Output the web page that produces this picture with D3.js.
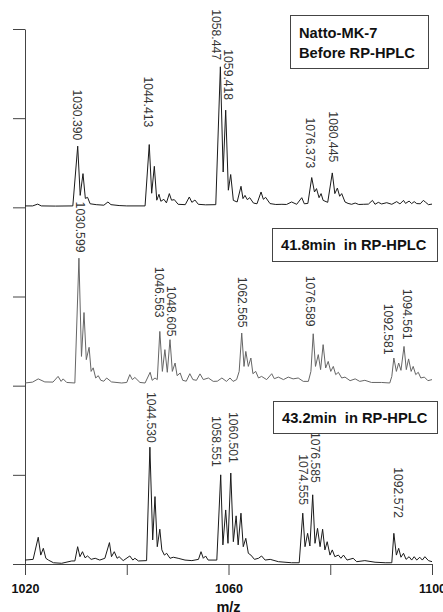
<!DOCTYPE html>
<html>
<head>
<meta charset="utf-8">
<script src="https://cdn.jsdelivr.net/npm/d3@7"></script>
<style>
  html, body { margin: 0; padding: 0; background: #fff; }
  svg { display: block; font-family: "Liberation Sans", Arial, sans-serif; }
</style>
</head>
<body>
<svg id="chart" width="443" height="612"></svg>
<script>
// ---------------- DATA ----------------
const xTicks = [1020, 1040, 1060, 1080, 1100];
const xTickLabels = [1020, 1060, 1100];
const xTitle = "m/z";

// Panel 1: Natto-MK-7 before RP-HPLC
const spec1Mz  = [1020.0,1021.5,1022.5,1023.2,1026.0,1029.4,1030.36,1030.85,1031.4,1031.86,1032.3,1032.8,1034.0,1035.5,1036.3,1036.9,1038.5,1040.0,1043.6,1044.42,1044.9,1045.42,1045.9,1046.34,1046.7,1047.3,1047.8,1048.37,1048.8,1049.35,1050.1,1051.5,1052.3,1052.8,1053.4,1054.07,1055.5,1057.5,1058.4,1058.95,1059.45,1059.97,1060.43,1060.95,1061.7,1062.46,1062.85,1063.24,1063.7,1064.17,1064.9,1065.6,1066.4,1066.85,1067.3,1068.16,1069.3,1070.5,1071.4,1072.4,1073.4,1074.4,1074.9,1075.6,1076.36,1076.9,1077.3,1077.8,1078.2,1078.6,1079.5,1080.4,1080.9,1081.4,1081.85,1082.25,1082.9,1083.5,1084.2,1084.9,1085.6,1086.5,1087.5,1088.3,1088.8,1089.45,1090.1,1091.1,1092.1,1093.06,1093.7,1094.4,1094.8,1095.5,1096.0,1096.5,1097.0,1097.7,1098.3,1098.76,1099.3,1100.0];
const spec1Int = [0.8,0.8,1.8,0.8,0.7,0.8,34.3,6.7,18.9,5.0,5.6,2.0,1.5,1.2,3.0,1.5,1.0,0.8,0.8,35.2,7.9,23.0,4.0,7.3,3.4,4.5,2.5,7.7,4.0,4.3,1.7,1.5,5.8,2.8,4.1,1.7,1.4,1.5,78.8,19.8,54.5,9.6,18.4,3.9,3.0,11.8,4.9,6.7,4.3,5.4,2.4,2.0,8.6,4.5,5.6,2.1,1.6,1.7,1.6,3.0,1.7,5.4,2.0,2.2,16.7,8.6,10.5,5.4,7.7,3.9,2.8,19.3,7.7,10.8,6.2,7.7,3.0,2.2,1.7,2.4,1.6,1.7,1.8,3.9,1.7,2.8,1.9,2.6,1.7,3.2,1.9,3.9,2.2,3.5,2.1,3.2,2.1,2.0,3.9,2.8,1.5,1.8];
const spec1LabelText  = ["1030.390","1044.413","1058.447","1059.418","1076.373","1080.445"];
const spec1LabelMz    = [1030.2,1044.2,1057.5,1059.9,1076.0,1080.5];
const spec1LabelLevel = [37.6,44.9,82.6,60.1,21.9,25.3];
const spec1Title = ["Natto-MK-7", "Before RP-HPLC"];

// Panel 2: 41.8 min fraction
const spec2Mz  = [1020.0,1021.5,1022.6,1023.9,1025.5,1026.5,1027.1,1027.5,1028.2,1029.8,1030.6,1031.1,1031.6,1032.05,1032.6,1033.0,1033.4,1033.9,1034.4,1034.9,1035.5,1036.05,1037.0,1039.0,1040.0,1040.6,1041.1,1041.6,1042.6,1043.6,1044.6,1045.0,1045.55,1046.0,1046.5,1047.0,1047.5,1047.97,1048.5,1048.96,1049.5,1049.9,1050.5,1051.0,1051.7,1052.4,1053.0,1053.7,1054.4,1055.05,1056.05,1057.0,1057.8,1058.7,1059.6,1060.3,1060.9,1061.6,1062.1,1062.6,1063.05,1063.4,1063.9,1064.4,1064.8,1065.35,1065.9,1066.5,1067.5,1068.5,1069.0,1069.8,1070.8,1071.75,1072.7,1073.7,1074.7,1075.7,1076.2,1076.65,1077.1,1077.65,1078.1,1078.6,1079.1,1079.6,1080.1,1080.6,1081.07,1081.6,1082.25,1082.9,1083.9,1084.9,1085.8,1086.8,1088.1,1090.1,1091.7,1092.1,1092.5,1093.0,1093.45,1093.9,1094.5,1094.95,1095.4,1095.9,1096.3,1096.8,1097.3,1097.8,1098.5,1099.2,1100.0];
const spec2Int = [1.5,2.0,3.8,2.1,2.0,5.2,2.4,3.8,1.8,1.5,71.5,16.4,41.0,14.6,21.5,8.0,10.0,4.3,5.6,3.0,2.5,4.3,2.1,1.5,1.8,6.2,3.4,4.6,1.8,1.5,7.5,3.0,4.3,3.4,30.4,8.0,20.2,7.5,25.8,8.0,12.7,5.6,7.1,3.0,2.5,6.7,3.4,3.0,6.6,3.4,4.3,2.4,2.5,4.3,2.4,4.3,2.4,3.4,8.0,29.5,10.8,19.2,10.8,15.5,6.7,8.0,4.3,5.2,3.4,6.7,3.9,4.8,3.4,4.8,3.8,4.3,2.4,2.4,8.0,29.1,10.8,17.4,9.0,23.0,9.9,13.6,8.0,10.8,6.2,7.5,4.3,4.8,2.8,3.8,2.4,3.0,1.8,1.8,1.5,5.2,15.5,8.0,12.7,8.6,22.0,9.0,15.0,8.0,10.8,6.2,7.5,4.3,4.8,2.8,3.4];
const spec2LabelText  = ["1030.599","1046.563","1048.605","1062.565","1076.589","1092.581","1094.561"];
const spec2LabelMz    = [1030.8,1046.3,1048.7,1062.65,1076.0,1091.35,1095.1];
const spec2LabelLevel = [74.7,38.2,27.5,32.6,33.1,17.4,25.8];
const spec2Title = ["41.8min  in RP-HPLC"];

// Panel 3: 43.2 min fraction
const spec3Mz  = [1020.0,1021.6,1022.6,1023.1,1023.6,1024.1,1024.6,1025.6,1027.2,1029.2,1029.8,1030.35,1030.8,1031.3,1031.8,1032.3,1033.0,1033.8,1034.7,1035.7,1036.6,1037.0,1037.55,1038.1,1038.5,1039.3,1040.6,1041.2,1041.6,1042.3,1043.9,1044.55,1045.1,1045.55,1046.0,1046.5,1046.9,1047.4,1047.85,1048.5,1049.15,1050.1,1051.45,1052.8,1054.1,1054.6,1055.05,1055.5,1056.0,1057.7,1058.47,1058.9,1059.45,1059.9,1060.45,1060.95,1061.5,1061.9,1062.45,1062.9,1063.4,1063.9,1064.4,1065.1,1065.9,1066.5,1067.2,1068.2,1069.8,1072.4,1073.9,1074.6,1075.04,1075.55,1076.0,1076.55,1077.0,1077.5,1078.0,1078.5,1078.95,1079.4,1079.95,1080.4,1080.9,1081.6,1082.1,1082.6,1083.3,1084.5,1085.2,1086.8,1088.8,1090.8,1092.1,1092.5,1093.0,1093.45,1093.9,1094.4,1094.9,1095.5,1096.0,1096.5,1097.0,1097.6,1098.1,1098.6,1099.3,1100.0];
const spec3Int = [2.2,2.6,15.0,5.0,8.8,3.2,2.2,0.7,0.4,1.7,1.7,9.7,4.1,6.9,3.5,4.5,2.6,3.2,2.2,3.2,12.0,4.1,6.9,3.2,4.1,1.9,4.5,2.2,3.2,1.7,1.9,65.5,13.5,37.8,9.7,19.5,7.9,5.0,6.0,3.2,3.8,3.2,2.2,1.9,2.6,6.9,3.2,4.5,2.2,2.2,50.0,10.7,30.3,11.6,51.0,12.5,27.0,10.7,28.5,9.7,14.4,6.0,5.0,2.6,3.2,4.5,2.2,2.6,1.3,0.7,0.7,28.5,9.7,17.2,10.1,38.8,11.6,20.0,9.7,19.5,7.9,12.5,5.0,7.9,4.1,5.0,3.2,5.0,2.2,3.2,1.3,1.9,1.0,0.7,0.7,17.2,5.0,8.8,3.8,6.0,2.6,4.1,2.2,4.1,2.2,3.8,2.2,4.1,1.9,1.3];
const spec3LabelText  = ["1044.530","1058.551","1060.501","1076.585","1074.555","1092.572"];
const spec3LabelMz    = [1044.8,1057.55,1060.9,1077.0,1074.65,1093.3];
const spec3LabelLevel = [68.0,54.5,56.7,45.5,33.1,25.8];
const spec3Title = ["43.2min  in RP-HPLC"];

// ---------------- DRAWING ----------------
const svg = d3.select("#chart");
const FONT = '"Liberation Sans", Arial, sans-serif';

const x = d3.scaleLinear().domain([1020, 1100]).range([25, 432]);
// one shared stacked intensity scale: each panel spans 100 units
const y = d3.scaleLinear().domain([0, 300]).range([564, 29]);

const panels = [
  { mz: spec1Mz, it: spec1Int, lt: spec1LabelText, lm: spec1LabelMz, ll: spec1LabelLevel, off: 200, color: "#1a1a1a",
    title: spec1Title, box: {x: 290, y: 15, w: 138, h: 53}, tx: 299, ty: [38, 58] },
  { mz: spec2Mz, it: spec2Int, lt: spec2LabelText, lm: spec2LabelMz, ll: spec2LabelLevel, off: 100, color: "#666666",
    title: spec2Title, box: {x: 272, y: 228, w: 165, h: 33}, tx: 281, ty: [250] },
  { mz: spec3Mz, it: spec3Int, lt: spec3LabelText, lm: spec3LabelMz, ll: spec3LabelLevel, off: 0, color: "#1a1a1a",
    title: spec3Title, box: {x: 273, y: 401, w: 164, h: 32}, tx: 282, ty: [423] }
];

// Y axis (no labels)
const yAxis = d3.axisLeft(y).tickValues(d3.range(0, 301, 50)).tickSize(12).tickSizeOuter(0).tickFormat("");
const gy = svg.append("g").attr("transform", "translate(25,0)").call(yAxis);
gy.selectAll("path, line").attr("stroke", "#444").attr("stroke-width", 1);

// X axis
const xAxis = d3.axisBottom(x).tickValues(xTicks).tickSize(11).tickSizeOuter(0).tickPadding(9)
  .tickFormat(d => xTickLabels.includes(d) ? String(d) : "");
const gx = svg.append("g").attr("transform", "translate(0,564)").call(xAxis);
gx.selectAll("path, line").attr("stroke", "#444").attr("stroke-width", 1);
gx.selectAll("text").attr("font-family", FONT).attr("font-size", 12.5).attr("font-weight", "bold").attr("fill", "#111");

svg.append("text").attr("x", x(1060)).attr("y", 612).attr("text-anchor", "middle")
  .attr("font-family", FONT).attr("font-size", 14.5).attr("font-weight", "bold").attr("fill", "#111").text(xTitle);

// spectra
panels.forEach(p => {
  const pts = p.mz.map((m, i) => [m, p.it[i]]);
  const line = d3.line().x(d => x(d[0])).y(d => y(p.off + d[1]));
  svg.append("path").datum(pts).attr("d", line)
    .attr("fill", "none").attr("stroke", p.color).attr("stroke-width", 1).attr("stroke-linejoin", "round");

  // peak labels (rotated, reading downward)
  p.lt.forEach((t, i) => {
    const lx = x(p.lm[i]), ly = y(p.off + p.ll[i]);
    svg.append("text")
      .attr("transform", `translate(${lx},${ly}) rotate(90)`)
      .attr("text-anchor", "end").attr("dominant-baseline", "central")
      .attr("font-family", FONT).attr("font-size", 12.2).attr("fill", "#333")
      .text(t);
  });

  // title box
  svg.append("rect").attr("x", p.box.x + 0.5).attr("y", p.box.y + 0.5).attr("width", p.box.w).attr("height", p.box.h)
    .attr("fill", "#fff").attr("stroke", "#444").attr("stroke-width", 1);
  p.title.forEach((t, i) => {
    svg.append("text").attr("x", p.tx).attr("y", p.ty[i])
      .attr("font-family", FONT).attr("font-size", 14.7).attr("font-weight", "bold").attr("fill", "#111")
      .attr("xml:space", "preserve").style("white-space", "pre").text(t);
  });
});
</script>
</body>
</html>
